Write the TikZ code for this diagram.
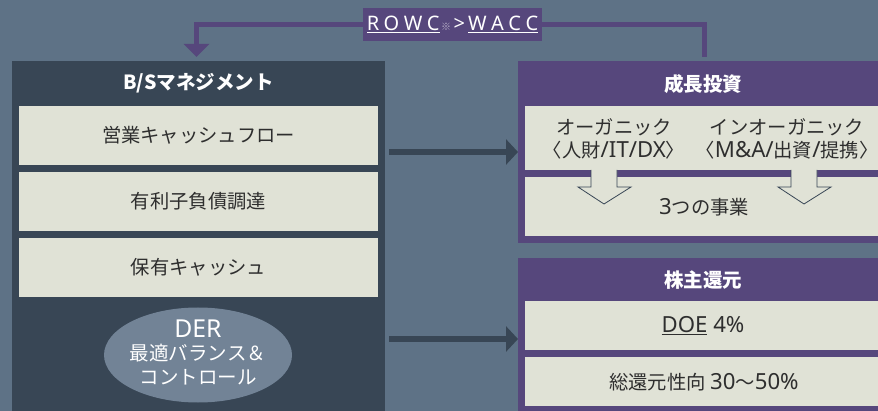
\documentclass[tikz,border=0pt]{standalone}
\usepackage{fontspec}
\setmainfont{Noto Sans CJK JP}
\newfontfamily\lat{Noto Sans}[Scale=1.15]
\newfontfamily\labfont{Noto Sans}
\newcommand\lsp{\kern4.5pt}
\usetikzlibrary{arrows.meta,shapes.geometric}
\definecolor{bgc}{HTML}{5E7286}
\definecolor{darkp}{HTML}{384655}
\definecolor{lightb}{HTML}{E0E2D6}
\definecolor{purp}{HTML}{56477C}
\definecolor{ellc}{HTML}{728396}
\definecolor{txtc}{HTML}{2E2E2E}
\definecolor{markc}{HTML}{BDB5CC}
\begin{document}
\begin{tikzpicture}[x=1pt,y=-1pt,
  rectbox/.style={rectangle,inner sep=0pt,outer sep=0pt,draw=none,anchor=north west},
  darkpanel/.style={rectbox,fill=darkp},
  purppanel/.style={rectbox,fill=purp},
  lightbox/.style={rectbox,fill=lightb},
  titletext/.style={inner sep=0pt,text=white,font=\fontsize{19.5}{22}\selectfont\bfseries},
  bodytext/.style={inner sep=0pt,text=txtc,font=\fontsize{19.3}{22}\selectfont},
  eltext/.style={inner sep=0pt,text=white,font=\fontsize{19.5}{22}\selectfont},
  bigarrow/.style={draw=darkp,line width=6pt,-{Triangle[length=12pt,width=25pt]}},
  conn/.style={draw=purp,line width=5pt},
  downarrow/.style={fill=lightb,draw=darkp,line width=0.8pt,line join=miter}
]
\useasboundingbox (0,0) rectangle (878,411);
\fill[bgc] (0,0) rectangle (878,411);

% left panel
\node[darkpanel,minimum width=373pt,minimum height=350pt] (lp) at (12,61) {};
\node[titletext] (lpt) at (198.5,83) {B/Sマネジメント};
\node[lightbox,minimum width=359pt,minimum height=59pt] (b1) at (19,106) {};
\node[bodytext] (b1t) at (198.5,135.5) {営業キャッシュフロー};
\node[lightbox,minimum width=359pt,minimum height=59pt] (b2) at (19,172) {};
\node[bodytext] (b2t) at (198.5,201.5) {有利子負債調達};
\node[lightbox,minimum width=359pt,minimum height=59pt] (b3) at (19,238) {};
\node[bodytext] (b3t) at (198.5,267.5) {保有キャッシュ};
\node[ellipse,fill=ellc,inner sep=0pt,minimum width=188pt,minimum height=95pt] (der) at (198,355) {};
\node[inner sep=0pt,text=white,font=\fontsize{21.5}{26}\selectfont\lat] (dert) at (198,329) {DER};
\node[eltext] (der2) at (198,353) {最適バランス＆};
\node[eltext] (der3) at (198,377) {コントロール};

% right top panel
\node[purppanel,minimum width=360pt,minimum height=182pt] (rt) at (518,61) {};
\node[titletext] (rtt) at (703,84) {成長投資};
\node[lightbox,minimum width=353pt,minimum height=64pt] (ru) at (525,106) {};
\node[lightbox,minimum width=353pt,minimum height=59pt] (rl) at (525,177) {};
\node[bodytext] (og) at (614,127) {オーガニック};
\node[bodytext] (og2) at (614,150) {〈人財{\lat/IT/DX}〉};
\node[bodytext] (iog) at (787,127) {インオーガニック};
\node[bodytext] (iog2) at (787,150) {〈{\lat M\&A/}出資{\lat/}提携〉};
\draw[downarrow] (591,170) -- (591,187) -- (578,187) -- (604,204) -- (631,187) -- (617,187) -- (617,170);
\draw[downarrow] (791,170) -- (791,187) -- (778,187) -- (804,204) -- (831,187) -- (817,187) -- (817,170);
\node[bodytext] (biz) at (704,207) {{\lat 3}つの事業};

% right bottom panel
\node[purppanel,minimum width=360pt,minimum height=153pt] (rb) at (518,258) {};
\node[titletext] (rbt) at (703,280) {株主還元};
\node[lightbox,minimum width=353pt,minimum height=49pt] (d1) at (525,301) {};
\node[bodytext] (d1t) at (703,326) {\lat\underline{DOE} 4\%};
\node[lightbox,minimum width=353pt,minimum height=49pt] (d2) at (525,357) {};
\node[bodytext] (d2t) at (704,382) {総還元性向 {\lat 30}〜{\lat 50\%}};

% horizontal arrows
\draw[bigarrow] (lp.east |- 0,152) ++(4,0) -- (rt.west |- 0,152) ;
\draw[bigarrow] (lp.east |- 0,339) ++(4,0) -- (rb.west |- 0,339);

% top connector
\coordinate (cs) at (704,57);
\draw[conn] (cs) -- (704,24.5) -| (196.5,46);
\fill[purp] (183.5,44) -- (209.5,44) -- (196.5,57) -- cycle;
\node[fill=purp,inner sep=0pt,minimum width=179pt,minimum height=33pt,text=white] (lab) at (452.5,24.5)
  {\labfont\fontsize{20}{22}\selectfont\underline{R\lsp O\lsp W\lsp C}\kern1.5pt{\rmfamily\fontsize{10}{10}\selectfont\color{markc}※}\kern2.5pt>\kern3pt\underline{W\lsp A\lsp C\lsp C}};
\end{tikzpicture}
\end{document}
